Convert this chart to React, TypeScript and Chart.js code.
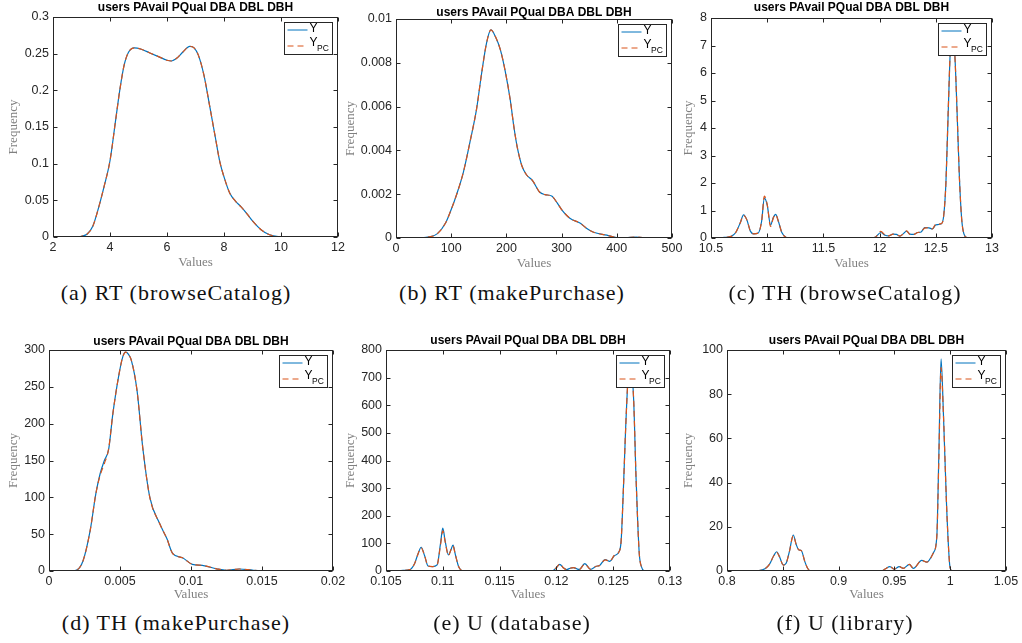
import React, { useEffect, useRef } from "react";
import { Chart, registerables } from "chart.js";
Chart.register(...registerables);

const PLOT_TITLE = "users PAvail PQual DBA DBL DBH";
const SERIES_NAMES = ["Y", "Y_PC"];
const BLUE = "#0072BD";
const ORANGE = "#D95319";

// (a) RT (browseCatalog)
const rtBrowseX = [2.85, 3.0, 3.2, 3.4, 3.6, 3.8, 4.0, 4.2, 4.35, 4.5, 4.65, 4.85, 5.1, 5.4, 5.7, 6.0, 6.15, 6.35, 6.55, 6.8, 6.95, 7.1, 7.3, 7.5, 7.7, 7.85, 8.0, 8.2, 8.4, 8.6, 8.8, 9.0, 9.3, 9.6, 9.9, 10.3];
const rtBrowseY = [0, 0.001, 0.004, 0.015, 0.04, 0.07, 0.104, 0.16, 0.202, 0.235, 0.252, 0.258, 0.256, 0.251, 0.246, 0.241, 0.24, 0.244, 0.252, 0.26, 0.258, 0.248, 0.22, 0.178, 0.135, 0.103, 0.082, 0.06, 0.049, 0.041, 0.032, 0.022, 0.01, 0.003, 0.0005, 0];
const rtBrowseYpc = [0, 0.001, 0.004, 0.015, 0.04, 0.07, 0.104, 0.16, 0.202, 0.235, 0.252, 0.258, 0.256, 0.251, 0.246, 0.241, 0.24, 0.244, 0.252, 0.26, 0.258, 0.248, 0.22, 0.178, 0.135, 0.103, 0.082, 0.06, 0.049, 0.041, 0.032, 0.022, 0.01, 0.003, 0.0005, 0];

// (b) RT (makePurchase)
const rtPurchaseX = [40, 60, 75, 90, 100, 110, 122, 135, 146, 155, 164, 172, 180, 189, 198, 207, 214, 220, 228, 236, 248, 260, 270, 282, 292, 300, 315, 334, 345, 358, 382, 400, 415, 435, 455, 470];
const rtPurchaseY = [0, 0.00005, 0.0002, 0.0007, 0.0013, 0.002, 0.003, 0.0045, 0.0059, 0.0075, 0.0089, 0.0095, 0.0092, 0.0086, 0.0076, 0.0063, 0.005, 0.0041, 0.0033, 0.0029, 0.0026, 0.0021, 0.00198, 0.00192, 0.0016, 0.0013, 0.0009, 0.00067, 0.00045, 0.00026, 0.00013, 0.00002, 0.00001, 0.00004, 0.00001, 0];
const rtPurchaseYpc = [0, 0.00005, 0.0002, 0.0007, 0.0013, 0.002, 0.003, 0.0045, 0.0059, 0.0075, 0.0089, 0.0095, 0.0092, 0.0086, 0.0076, 0.0063, 0.005, 0.0041, 0.0033, 0.0029, 0.0026, 0.0021, 0.00198, 0.00192, 0.0016, 0.0013, 0.0009, 0.00067, 0.00045, 0.00026, 0.00013, 0.00002, 0.00001, 0.00004, 0.00001, 0];

// (c) TH (browseCatalog)
const thBrowseX = [10.55, 10.62, 10.68, 10.72, 10.76, 10.79, 10.82, 10.85, 10.88, 10.92, 10.95, 10.975, 11.0, 11.03, 11.055, 11.075, 11.1, 11.13, 11.17, 11.2, 11.9, 11.96, 12.01, 12.05, 12.08, 12.12, 12.15, 12.18, 12.21, 12.24, 12.27, 12.3, 12.34, 12.37, 12.4, 12.44, 12.47, 12.5, 12.55, 12.57, 12.59, 12.61, 12.63, 12.65, 12.67, 12.69, 12.71, 12.73, 12.75, 12.78, 12.8];
const thBrowseY = [0, 0.02, 0.06, 0.2, 0.55, 0.84, 0.65, 0.25, 0.15, 0.18, 0.6, 1.45, 1.2, 0.47, 0.75, 0.86, 0.6, 0.2, 0.02, 0, 0, 0.02, 0.2, 0.1, 0.08, 0.14, 0.13, 0.07, 0.15, 0.25, 0.14, 0.13, 0.2, 0.22, 0.38, 0.37, 0.33, 0.48, 0.52, 0.8, 2.0, 4.5, 6.9, 7.6, 6.6, 4.5, 2.2, 0.7, 0.15, 0.01, 0];
const thBrowseYpc = [0, 0.02, 0.06, 0.2, 0.55, 0.82, 0.65, 0.25, 0.15, 0.18, 0.6, 1.52, 1.22, 0.42, 0.74, 0.85, 0.6, 0.2, 0.02, 0, 0, 0.02, 0.24, 0.11, 0.08, 0.14, 0.12, 0.07, 0.15, 0.26, 0.13, 0.13, 0.2, 0.22, 0.36, 0.38, 0.33, 0.5, 0.52, 0.8, 2.0, 4.6, 6.9, 7.5, 6.6, 4.5, 2.2, 0.7, 0.15, 0.01, 0];

// (d) TH (makePurchase)
const thPurchaseX = [0.0013, 0.0019, 0.0024, 0.0029, 0.0033, 0.0036, 0.0039, 0.0042, 0.0045, 0.0049, 0.0052, 0.0054, 0.0056, 0.0058, 0.0062, 0.0066, 0.0071, 0.0078, 0.0083, 0.0087, 0.0094, 0.0101, 0.0108, 0.0118, 0.0125, 0.0134, 0.0144, 0.0156];
const thPurchaseY = [0, 1, 14, 55, 105, 132, 150, 165, 214, 264, 291, 297, 294, 286, 245, 168, 100, 64, 44, 24, 18, 9, 7.7, 3, 1, 2.7, 1, 0];
const thPurchaseYpc = [0, 1, 14, 55, 105, 130, 146, 166, 214, 264, 291, 297, 294, 286, 245, 168, 100, 64, 44, 24, 18, 9, 7.7, 3, 1, 2.7, 1, 0];

// (e) U (database)
const uDatabaseX = [0.1058, 0.1065, 0.1071, 0.1075, 0.1078, 0.1081, 0.1084, 0.1087, 0.1091, 0.1095, 0.1098, 0.11, 0.1102, 0.1105, 0.1107, 0.1109, 0.1111, 0.1114, 0.1117, 0.112, 0.1196, 0.12, 0.1203, 0.1206, 0.1209, 0.1212, 0.1215, 0.1218, 0.122, 0.1225, 0.123, 0.1235, 0.1238, 0.1243, 0.1247, 0.1251, 0.1255, 0.1257, 0.1259, 0.1261, 0.1263, 0.12655, 0.1268, 0.127, 0.12715, 0.1273, 0.1275, 0.1278, 0.128];
const uDatabaseY = [0, 2, 5, 25, 60, 86, 55, 18, 16, 22, 100, 155, 110, 58, 75, 94, 60, 15, 1, 0, 0, 12, 24, 12, 5, 10, 12, 8, 5, 27, 6, 17, 20, 41, 35, 55, 69, 110, 300, 520, 690, 740, 620, 350, 185, 60, 14, 0, 0];
const uDatabaseYpc = [0, 2, 5, 25, 60, 84, 55, 18, 16, 22, 95, 145, 108, 56, 75, 90, 60, 15, 1, 0, 0, 12, 26, 12, 5, 10, 12, 8, 5, 25, 6, 17, 20, 40, 35, 57, 69, 110, 300, 520, 690, 735, 620, 350, 185, 60, 14, 0, 0];

// (f) U (library)
const uLibraryX = [0.826, 0.834, 0.838, 0.842, 0.8445, 0.847, 0.8505, 0.853, 0.856, 0.8594, 0.862, 0.8645, 0.8665, 0.8699, 0.8725, 0.875, 0.9385, 0.942, 0.946, 0.9496, 0.9544, 0.958, 0.9634, 0.967, 0.9745, 0.979, 0.985, 0.988, 0.9898, 0.9918, 0.994, 0.9968, 0.9995, 1.001];
const uLibraryY = [0, 1, 3, 7, 8.7, 6.5, 2.7, 3.5, 9, 16.3, 12, 9.5, 9.3, 4, 1, 0, 0, 1, 2, 0.8, 2, 1.2, 3, 1.2, 4.8, 4, 8.3, 15.5, 52, 96, 70, 29, 3, 0];
const uLibraryYpc = [0, 1, 3, 7, 8.5, 6.5, 2.7, 3.5, 9, 16, 12, 9.5, 9.3, 4, 1, 0, 0, 1, 2.2, 0.8, 2, 1.2, 3, 1.2, 4.8, 4, 8.3, 15.5, 50, 92, 70, 29, 3, 0];

// axis ranges
const xRanges = [[2, 12, 2], [0, 500, 100], [10.5, 13, 0.5], [0, 0.02, 0.005], [0.105, 0.13, 0.005], [0.8, 1.05, 0.05]];
const yRanges = [[0, 0.3, 0.05], [0, 0.01, 0.002], [0, 8, 1], [0, 300, 50], [0, 800, 100], [0, 100, 20]];
const captions = ["(a) RT (browseCatalog)", "(b) RT (makePurchase)", "(c) TH (browseCatalog)", "(d) TH (makePurchase)", "(e) U (database)", "(f) U (library)"];
const seriesX = [rtBrowseX, rtPurchaseX, thBrowseX, thPurchaseX, uDatabaseX, uLibraryX];
const seriesY = [rtBrowseY, rtPurchaseY, thBrowseY, thPurchaseY, uDatabaseY, uLibraryY];
const seriesYpc = [rtBrowseYpc, rtPurchaseYpc, thBrowseYpc, thPurchaseYpc, uDatabaseYpc, uLibraryYpc];

// layout (page pixels): plot area, offsets
const layouts = [
  { l: 53, r: 338, t: 17, b: 237, yTitleOff: 39, titleOff: 9.5, xTitleOff: 25.5, capX: 176, capY: 293 },
  { l: 396, r: 672, t: 19, b: 238, yTitleOff: 45, titleOff: 6.5, xTitleOff: 25.3, capX: 512, capY: 293 },
  { l: 711, r: 992, t: 18, b: 238, yTitleOff: 22.5, titleOff: 10.5, xTitleOff: 25.3, capX: 845, capY: 293 },
  { l: 49, r: 333, t: 350, b: 571, yTitleOff: 35, titleOff: 8.3, xTitleOff: 23.5, capX: 176, capY: 623 },
  { l: 386, r: 670, t: 350, b: 571, yTitleOff: 35, titleOff: 9, xTitleOff: 24, capX: 512, capY: 623 },
  { l: 727, r: 1006, t: 350, b: 571, yTitleOff: 38.7, titleOff: 9.3, xTitleOff: 24, capX: 845, capY: 623 },
];

const M = 60; // margin left/right of plot in canvas
const TOP = 20;
const XAX = 34;
const SANS = '"Liberation Sans", Arial, Helvetica, sans-serif';
const SERIF = '"Liberation Serif", "Times New Roman", serif';

const fmt = (v: any) => String(parseFloat(Number(v).toPrecision(10)));

const framePlugin = {
  id: "frame",
  afterDraw(chart: any, _args: any, opts: any) {
    const { ctx, chartArea } = chart;
    const { left, right, top, bottom } = chartArea;
    const xs = chart.scales.x;
    const ys = chart.scales.y;
    const L = Math.round(left) + 0.5;
    const R = Math.round(right) - 0.5;
    const T = Math.round(top) + 0.5;
    const B = Math.round(bottom) - 0.5;
    ctx.save();
    ctx.setLineDash([]);
    ctx.strokeStyle = "#262626";
    ctx.lineWidth = 1;
    ctx.strokeRect(L, T, R - L, B - T);
    ctx.beginPath();
    xs.ticks.forEach((t: any) => {
      const p = Math.round(xs.getPixelForValue(t.value)) + 0.5;
      ctx.moveTo(p, B); ctx.lineTo(p, B - 4);
      ctx.moveTo(p, T); ctx.lineTo(p, T + 4);
    });
    ys.ticks.forEach((t: any) => {
      const p = Math.round(ys.getPixelForValue(t.value)) + 0.5;
      ctx.moveTo(L, p); ctx.lineTo(L + 4, p);
      ctx.moveTo(R, p); ctx.lineTo(R - 4, p);
    });
    ctx.stroke();

    // title
    ctx.fillStyle = "#000";
    ctx.font = `bold 12px ${SANS}`;
    ctx.textAlign = "center";
    ctx.textBaseline = "middle";
    ctx.fillText(PLOT_TITLE, (left + right) / 2, top - opts.titleOff);

    // legend
    const bw = 48, bh = 32;
    const bx = Math.round(right - 6 - bw) + 0.5;
    const by = Math.round(top + 5) + 0.5;
    ctx.fillStyle = "#fff";
    ctx.fillRect(bx, by, bw, bh);
    ctx.strokeStyle = "#262626";
    ctx.strokeRect(bx, by, bw, bh);
    ctx.lineWidth = 1;
    ctx.strokeStyle = BLUE;
    ctx.beginPath(); ctx.moveTo(bx + 3, by + 7.5); ctx.lineTo(bx + 23, by + 7.5); ctx.stroke();
    ctx.strokeStyle = ORANGE;
    ctx.setLineDash([6, 4]);
    ctx.beginPath(); ctx.moveTo(bx + 3, by + 23.5); ctx.lineTo(bx + 23, by + 23.5); ctx.stroke();
    ctx.setLineDash([]);
    ctx.fillStyle = "#000";
    ctx.textAlign = "left";
    ctx.font = `12px ${SANS}`;
    ctx.fillText(SERIES_NAMES[0], bx + 25, by + 6.5);
    ctx.fillText("Y", bx + 25, by + 20.5);
    ctx.font = `8.5px ${SANS}`;
    ctx.fillText("PC", bx + 32.5, by + 26.5);
    ctx.restore();
  },
};

function Panel({ i }: { i: number }) {
  const ref = useRef<HTMLCanvasElement>(null);
  const lay = layouts[i];
  const W = lay.r - lay.l + 2 * M;
  const H = TOP + (lay.b - lay.t) + XAX;
  useEffect(() => {
    const xsArr = seriesX[i];
    const mk = (ys: number[]) => xsArr.map((x, k) => ({ x, y: ys[k] }));
    const [xmin, xmax, xstep] = xRanges[i];
    const [ymin, ymax, ystep] = yRanges[i];
    const chart = new Chart(ref.current as HTMLCanvasElement, {
      type: "line",
      data: {
        datasets: [
          {
            label: SERIES_NAMES[0],
            data: mk(seriesY[i]),
            borderColor: BLUE,
            borderWidth: 1.2,
            pointRadius: 0,
            cubicInterpolationMode: "monotone",
            fill: false,
            order: 2,
          },
          {
            label: SERIES_NAMES[1],
            data: mk(seriesYpc[i]),
            borderColor: ORANGE,
            borderWidth: 1.2,
            borderDash: [6, 4],
            pointRadius: 0,
            cubicInterpolationMode: "monotone",
            fill: false,
            order: 1,
          },
        ],
      },
      options: {
        responsive: false,
        maintainAspectRatio: false,
        animation: false,
        devicePixelRatio: 1,
        layout: { padding: { left: 0, right: M, top: TOP, bottom: 0 } },
        events: [],
        plugins: {
          legend: { display: false },
          tooltip: { enabled: false },
          title: { display: false },
          frame: { titleOff: lay.titleOff },
        } as any,
        scales: {
          x: {
            type: "linear",
            min: xmin,
            max: xmax,
            border: { display: false },
            grid: { display: false, drawTicks: false },
            ticks: {
              stepSize: xstep,
              autoSkip: false,
              maxRotation: 0,
              padding: 3.5,
              color: "#262626",
              font: { family: SANS, size: 12.5 },
              callback: fmt,
            },
            title: {
              display: true,
              text: "Values",
              color: "#808080",
              font: { family: SERIF, size: 13 },
              padding: { top: 0, bottom: XAX - 7.8 - lay.xTitleOff },
            },
            afterFit: (s: any) => {
              s.height = XAX;
              s.paddingLeft = 0;
              s.paddingRight = 0;
            },
          },
          y: {
            type: "linear",
            min: ymin,
            max: ymax,
            border: { display: false },
            grid: { display: false, drawTicks: false },
            ticks: {
              stepSize: ystep,
              autoSkip: false,
              padding: 4,
              color: "#262626",
              font: { family: SANS, size: 12.5 },
              callback: fmt,
            },
            title: {
              display: true,
              text: "Frequency",
              color: "#808080",
              font: { family: SERIF, size: 13 },
              padding: { top: M - lay.yTitleOff - 7.8, bottom: 0 },
            },
            afterFit: (s: any) => {
              s.width = M;
              s.paddingTop = 0;
              s.paddingBottom = 0;
            },
          },
        } as any,
      },
      plugins: [framePlugin],
    } as any);
    return () => chart.destroy();
  }, [i]);
  return (
    <>
      <canvas
        ref={ref}
        width={W}
        height={H}
        style={{ position: "absolute", left: lay.l - M, top: lay.t - TOP, width: W, height: H }}
      />
      <div
        style={{
          position: "absolute",
          left: lay.capX - 200,
          width: 400,
          top: lay.capY - 13,
          height: 26,
          lineHeight: "26px",
          textAlign: "center",
          fontFamily: SERIF,
          fontSize: 22,
          letterSpacing: "1px",
          color: "#111",
          whiteSpace: "nowrap",
        }}
      >
        {captions[i]}
      </div>
    </>
  );
}

export default function App() {
  return (
    <div style={{ position: "absolute", left: 0, top: 0, width: 1022, height: 643, background: "#fff", overflow: "hidden" }}>
      {[0, 1, 2, 3, 4, 5].map((i) => (
        <Panel key={i} i={i} />
      ))}
    </div>
  );
}
